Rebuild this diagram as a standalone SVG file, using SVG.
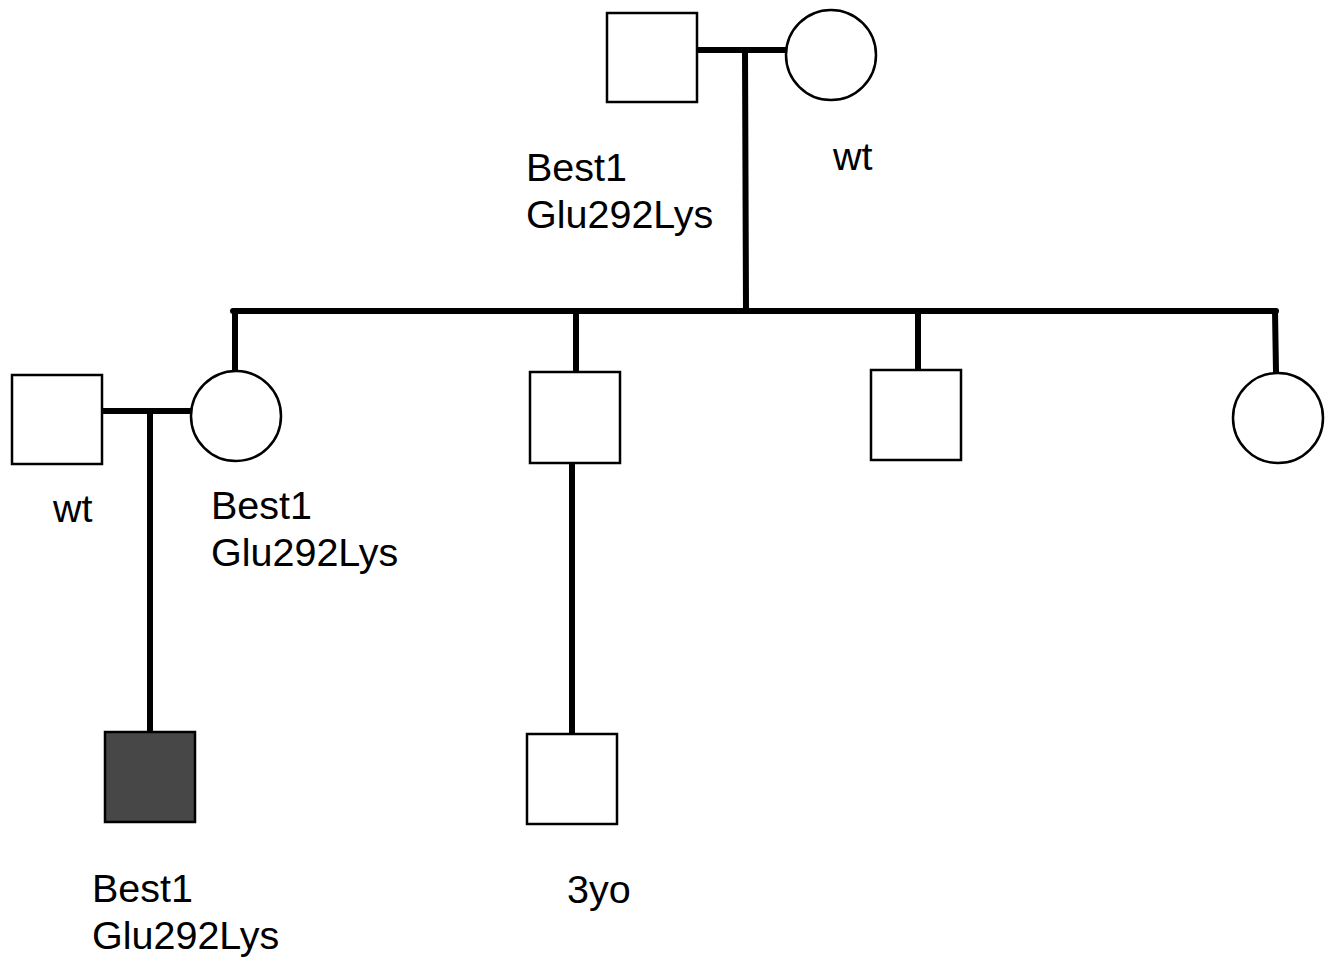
<svg xmlns="http://www.w3.org/2000/svg" width="1334" height="964" viewBox="0 0 1334 964">
<style>
.n{fill:#fff;stroke:#000;stroke-width:2.5}
.a{fill:#474747;stroke:#000;stroke-width:2.5}
.c{stroke:#000;stroke-width:6;fill:none;stroke-linecap:round}
text{font-family:"Liberation Sans",Arial,sans-serif;font-size:39.5px;fill:#000}
</style>
<rect width="1334" height="964" fill="#fff"/>
<g id="connectors">
<line class="c" x1="697" y1="50" x2="789" y2="50"/>
<line class="c" x1="745" y1="50" x2="746" y2="310"/>
<line class="c" x1="233" y1="311" x2="1276" y2="311"/>
<line class="c" x1="235" y1="311" x2="235" y2="372"/>
<line class="c" x1="576" y1="311" x2="576" y2="372"/>
<line class="c" x1="918" y1="311" x2="918" y2="372"/>
<line class="c" x1="1275" y1="311" x2="1276" y2="372"/>
<line class="c" x1="102" y1="411" x2="193" y2="411"/>
<line class="c" x1="150" y1="411" x2="150" y2="740"/>
<line class="c" x1="572" y1="461" x2="572" y2="733"/>
</g>
<g id="gf"><rect class="n" x="607" y="13" width="90" height="89"/></g>
<g id="gm"><circle class="n" cx="831" cy="55" r="45"/></g>
<g id="spouse"><rect class="n" x="12" y="375" width="90" height="89"/></g>
<g id="mother"><circle class="n" cx="236" cy="416" r="45"/></g>
<g id="uncle1"><rect class="n" x="530" y="372" width="90" height="91"/></g>
<g id="uncle2"><rect class="n" x="871" y="370" width="90" height="90"/></g>
<g id="aunt"><circle class="n" cx="1278" cy="418" r="45"/></g>
<g id="proband"><rect class="a" x="105" y="732" width="90" height="90"/></g>
<g id="cousin"><rect class="n" x="527" y="734" width="90" height="90"/></g>
<g id="labels">
<text x="526" y="181">Best1</text>
<text x="526" y="228">Glu292Lys</text>
<text x="833" y="170">wt</text>
<text x="53" y="522">wt</text>
<text x="211" y="519">Best1</text>
<text x="211" y="566">Glu292Lys</text>
<text x="92" y="902">Best1</text>
<text x="92" y="949">Glu292Lys</text>
<text x="567" y="903">3yo</text>
</g>
</svg>
